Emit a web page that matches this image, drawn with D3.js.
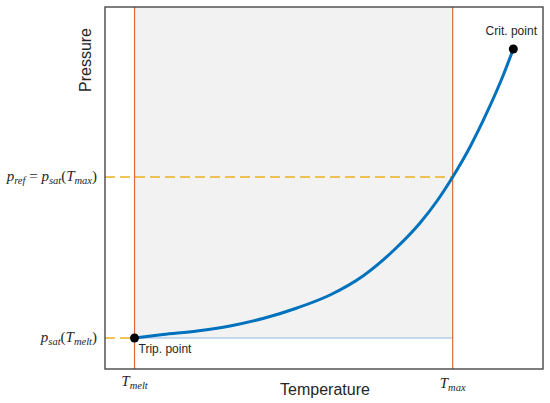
<!DOCTYPE html>
<html lang="en">
<head>
    <meta charset="UTF-8">
    <title>Saturation pressure curve</title>
    <script src="https://d3js.org/d3.v7.min.js"></script>
    <style>
        body {
            margin: 0;
            padding: 0;
            background-color: #fff;
        }

        .sans {
            font-family: "Liberation Sans", Arial, sans-serif;
            fill: #262626;
        }

        .math {
            font-family: "Liberation Serif", "Times New Roman", serif;
            font-style: italic;
            fill: #262626;
        }
    </style>
</head>
<body>
    <div id="chart"></div>
    <script>
        // saturation curve (arbitrary units, 0..10 on both axes)
        const temperature = [0.674, 1.324, 2.100, 2.854, 3.607, 4.384, 5.137, 5.890, 6.575, 7.192, 7.580, 7.938, 8.333, 8.715, 9.094, 9.322];
        const pressure    = [0.856, 0.953, 1.050, 1.188, 1.395, 1.685, 2.044, 2.569, 3.260, 4.033, 4.641, 5.304, 6.133, 7.072, 8.122, 8.840];

        const tMelt = 0.674;
        const tMax = 7.938;
        const pTrip = 0.856;
        const pRef = 5.304;
        const tCrit = 9.322;
        const pCrit = 8.840;

        const width = 550;
        const height = 403;
        const margin = { top: 7, right: 7, bottom: 34, left: 105 };

        const svg = d3.select("#chart")
            .append("svg")
            .attr("width", width)
            .attr("height", height);

        const x = d3.scaleLinear().domain([0, 10]).range([margin.left, width - margin.right]);
        const y = d3.scaleLinear().domain([0, 10]).range([height - margin.bottom, margin.top]);

        // shaded operating window
        svg.append("rect")
            .attr("x", x(tMelt))
            .attr("y", y(10))
            .attr("width", x(tMax) - x(tMelt))
            .attr("height", y(pTrip) - y(10))
            .attr("fill", "#f2f2f2");

        svg.append("line")
            .attr("x1", x(tMelt)).attr("x2", x(tMax))
            .attr("y1", y(pTrip)).attr("y2", y(pTrip))
            .attr("stroke", "#8fb9de")
            .attr("stroke-width", 1);

        // dashed reference lines
        const dashed = [
            { p: pTrip, t: tMelt },
            { p: pRef, t: tMax }
        ];
        svg.selectAll(".ref")
            .data(dashed)
            .enter()
            .append("line")
            .attr("class", "ref")
            .attr("x1", x(0))
            .attr("x2", d => x(d.t))
            .attr("y1", d => y(d.p))
            .attr("y2", d => y(d.p))
            .attr("stroke", "#edb120")
            .attr("stroke-width", 1.5)
            .attr("stroke-dasharray", "10,5");

        // vertical temperature limits
        svg.selectAll(".limit")
            .data([tMelt, tMax])
            .enter()
            .append("line")
            .attr("class", "limit")
            .attr("x1", d => x(d)).attr("x2", d => x(d))
            .attr("y1", y(0)).attr("y2", y(10))
            .attr("stroke", "#de6a3a")
            .attr("stroke-width", 1.2);

        const curve = temperature.map((t, i) => ({ t: t, p: pressure[i] }));
        const line = d3.line()
            .x(d => x(d.t))
            .y(d => y(d.p))
            .curve(d3.curveMonotoneX);

        svg.append("path")
            .datum(curve)
            .attr("d", line)
            .attr("fill", "none")
            .attr("stroke", "#0072bd")
            .attr("stroke-width", 3);

        svg.selectAll(".pt")
            .data([{ t: tMelt, p: pTrip }, { t: tCrit, p: pCrit }])
            .enter()
            .append("circle")
            .attr("class", "pt")
            .attr("cx", d => x(d.t))
            .attr("cy", d => y(d.p))
            .attr("r", 4.5)
            .attr("fill", "#000");

        // frame
        svg.append("rect")
            .attr("x", x(0))
            .attr("y", y(10))
            .attr("width", x(10) - x(0))
            .attr("height", y(0) - y(10))
            .attr("fill", "none")
            .attr("stroke", "#3a3a3a")
            .attr("stroke-width", 1.3);

        // point labels
        svg.append("text")
            .attr("class", "sans")
            .attr("x", x(tMelt) + 4)
            .attr("y", y(pTrip) + 15)
            .attr("font-size", 12)
            .text("Trip. point");

        svg.append("text")
            .attr("class", "sans")
            .attr("x", x(tCrit) - 2)
            .attr("y", y(pCrit) - 14)
            .attr("text-anchor", "middle")
            .attr("font-size", 12)
            .text("Crit. point");

        // axis titles
        svg.append("text")
            .attr("class", "sans")
            .attr("x", (x(0) + x(10)) / 2 + 1)
            .attr("y", 395)
            .attr("text-anchor", "middle")
            .attr("font-size", 16)
            .text("Temperature");

        svg.append("text")
            .attr("class", "sans")
            .attr("transform", "translate(91,60) rotate(-90)")
            .attr("text-anchor", "middle")
            .attr("font-size", 16)
            .text("Pressure");

        // math tick labels: parts of [text, subscript?]
        function mathLabel(parts, px, py, anchor) {
            const t = svg.append("text")
                .attr("class", "math")
                .attr("x", px)
                .attr("y", py)
                .attr("text-anchor", anchor)
                .attr("font-size", 15);
            parts.forEach(p => {
                const s = t.append("tspan").text(p[0]);
                if (p[1] === "sub") {
                    s.attr("font-size", 10.5).attr("dy", 3);
                } else if (p[1] === "up") {
                    s.attr("font-style", "normal");
                }
                if (p[2]) s.attr("dy", p[2]);
            });
        }

        mathLabel([["T", "", 0], ["melt", "sub"]], x(tMelt), 386, "middle");
        mathLabel([["T", "", 0], ["max", "sub"]], x(tMax), 388, "middle");
        mathLabel([["p"], ["ref", "sub"], [" = ", "up", -3], ["p"], ["sat", "sub"], ["(", "up", -3], ["T"], ["max", "sub"], [")", "up", -3]], 97, y(pRef) + 4, "end");
        mathLabel([["p"], ["sat", "sub"], ["(", "up", -3], ["T"], ["melt", "sub"], [")", "up", -3]], 97, y(pTrip) + 4, "end");
    </script>
</body>
</html>
